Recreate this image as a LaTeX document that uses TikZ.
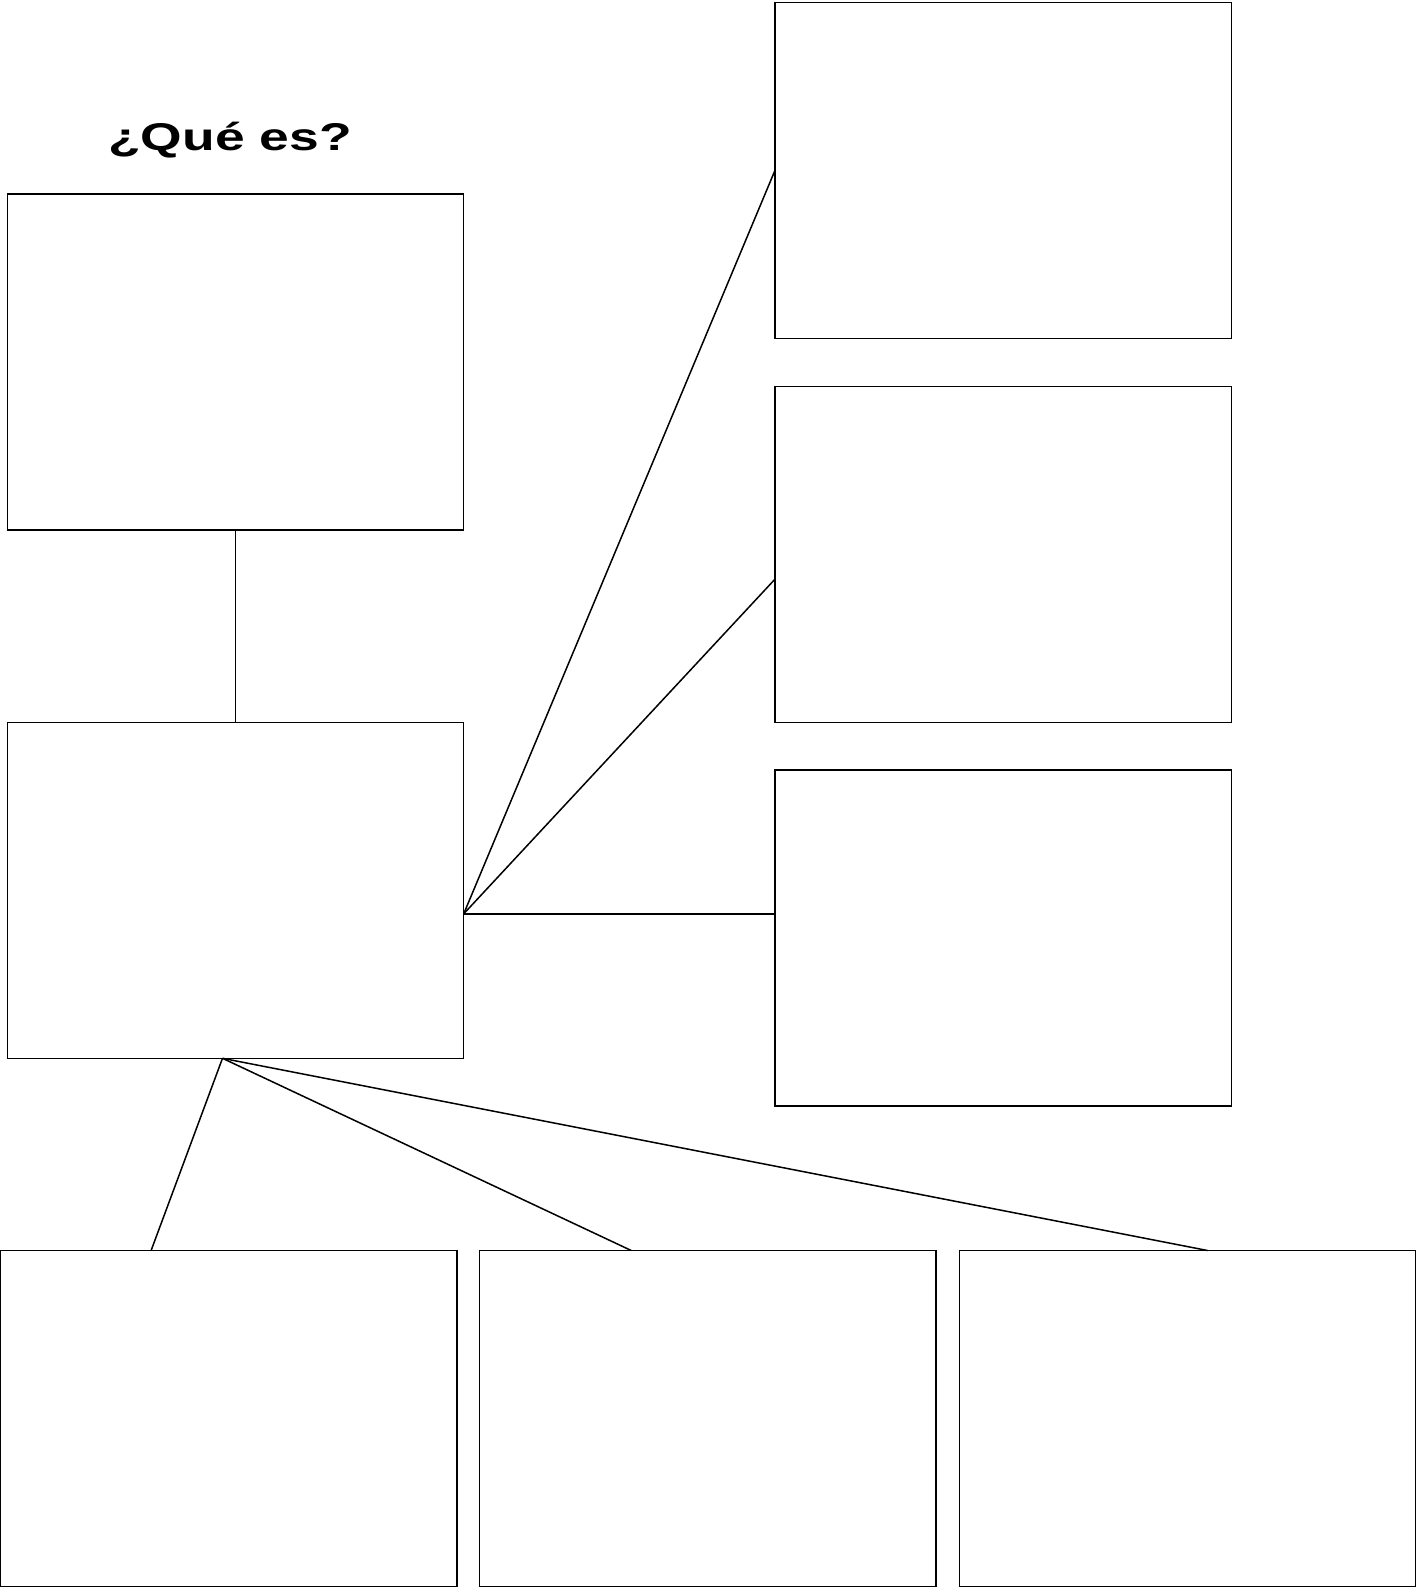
\documentclass[tikz,border=0pt]{standalone}
\usepackage{fontspec}
\setmainfont{Liberation Sans}
\usetikzlibrary{calc}
\begin{document}
\begin{tikzpicture}[x=1pt,y=-1pt,
  box/.style={draw=black,line width=1.5pt,fill=white,inner sep=0pt,outer sep=0pt,
    minimum width=456.4pt,minimum height=336pt,anchor=north west},
  link/.style={draw=black,line width=1.5pt},
  titlefont/.style={font=\fontsize{38.7}{46}\selectfont\bfseries}]
\useasboundingbox (0,0) rectangle (1416,1587);
\fill[white] (0,0) rectangle (1416,1587);
% boxes
\node[box] (a) at (7.3,194) {};
\node[box] (b) at (7.3,722.3) {};
\node[box] (r1) at (775,2.3) {};
\node[box] (r2) at (775,386.6) {};
\node[box] (r3) at (775,770.2) {};
\node[box] (c1) at (0.5,1250.5) {};
\node[box] (c2) at (479.7,1250.5) {};
\node[box] (c3) at (959.3,1250.5) {};
% title
\node[titlefont,anchor=base,inner sep=0pt] (t) at (230,150) {\scalebox{1.38}[1]{¿Qué es?}};
% connection points
\coordinate (bR) at ($(b.north east)!0.57!(b.south east)$);
\coordinate (bB) at ($(b.south west)!0.4715!(b.south east)$);
\coordinate (r2L) at ($(r2.north west)!0.573!(r2.south west)$);
\coordinate (c1T) at ($(c1.north west)!0.33!(c1.north east)$);
\coordinate (c2T) at ($(c2.north west)!0.332!(c2.north east)$);
\coordinate (c3T) at ($(c3.north west)!0.544!(c3.north east)$);
% connectors
\draw[link] (a.south) -- (a.south |- b.north);
\draw[link] (bR) -- (r1.west);
\draw[link] (bR) -- (r2L);
\draw[link] (bR) -- (bR -| r3.west);
\draw[link] (bB) -- (c1T);
\draw[link] (bB) -- (c2T);
\draw[link] (bB) -- (c3T);
\end{tikzpicture}
\end{document}
